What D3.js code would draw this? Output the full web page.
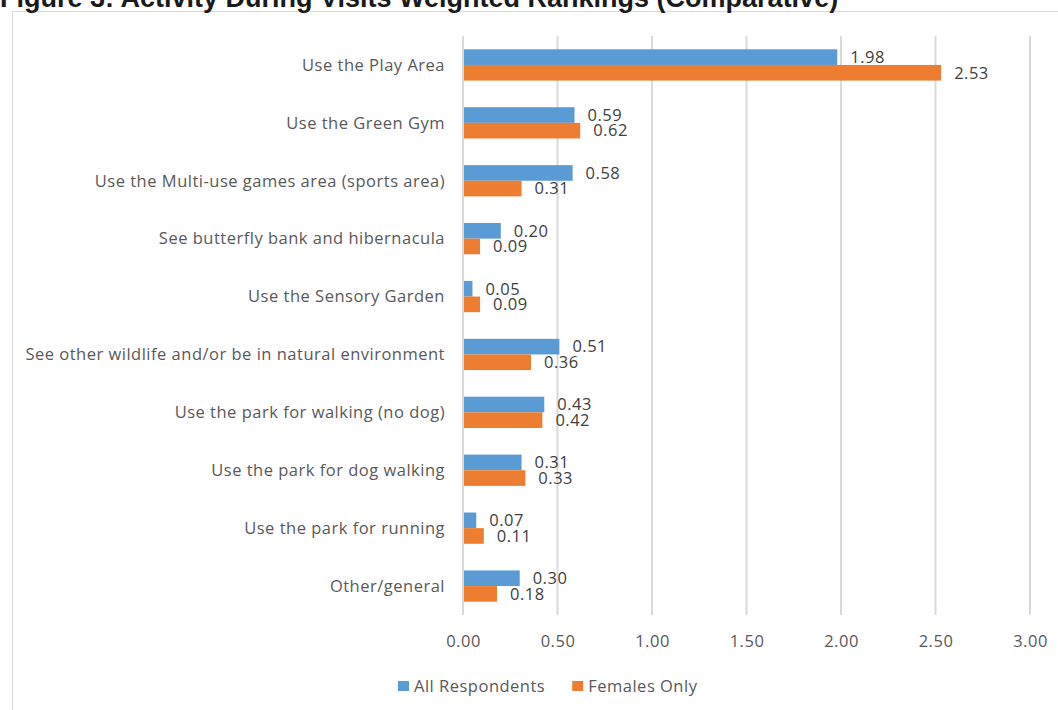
<!DOCTYPE html>
<html>
<head>
<meta charset="utf-8">
<script src="https://cdn.jsdelivr.net/npm/d3@7"></script>
<style>
  html, body { margin: 0; padding: 0; background: #fff; }
  svg { display: block; }
</style>
</head>
<body>
<svg id="chart" width="1058" height="710"></svg>
<script>
// Activities during visits, weighted rankings
const categories = [
  "Use the Play Area",
  "Use the Green Gym",
  "Use the Multi-use games area (sports area)",
  "See butterfly bank and hibernacula",
  "Use the Sensory Garden",
  "See other wildlife and/or be in natural environment",
  "Use the park for walking (no dog)",
  "Use the park for dog walking",
  "Use the park for running",
  "Other/general"
];
const allRespondents = [1.98, 0.59, 0.58, 0.20, 0.05, 0.51, 0.43, 0.31, 0.07, 0.30];
const femalesOnly    = [2.53, 0.62, 0.31, 0.09, 0.09, 0.36, 0.42, 0.33, 0.11, 0.18];
const seriesNames = ["All Respondents", "Females Only"];
const xTicks = [0, 0.5, 1, 1.5, 2, 2.5, 3];
const title = "Figure 3: Activity During Visits Weighted Rankings (Comparative)";

const colors = ["#5B9BD5", "#ED7D31"];
const textFont = "'Open Sans', sans-serif";
const spacing = 0.5;

const svg = d3.select("#chart");

// chart frame
svg.append("rect")
  .attr("x", 12.5).attr("y", 11.5)
  .attr("width", 1080).attr("height", 720)
  .attr("fill", "#fff").attr("stroke", "#d9d9d9").attr("stroke-width", 1);

// title, partly above the top edge
svg.append("text")
  .attr("x", 0).attr("y", 7)
  .attr("font-family", "'Liberation Sans', Arial, sans-serif")
  .attr("font-weight", "bold")
  .attr("font-size", 27)
  .attr("fill", "#1a1a1a")
  .text(title);

const plot = { left: 463, right: 1030, top: 36, bottom: 615 };

const x = d3.scaleLinear().domain([0, 3]).range([plot.left, plot.right]);
const y = d3.scaleBand().domain(categories).range([plot.top, plot.bottom]).paddingInner(0.46).paddingOuter(0.23);
const ySub = d3.scaleBand().domain([0, 1]).range([0, y.bandwidth()]);

// vertical gridlines
svg.append("g")
  .selectAll("line")
  .data(xTicks)
  .join("line")
  .attr("x1", d => x(d)).attr("x2", d => x(d))
  .attr("y1", plot.top).attr("y2", plot.bottom)
  .attr("stroke", "#d9d9d9").attr("stroke-width", 2);

// x axis labels
const xAxis = d3.axisBottom(x).tickValues(xTicks).tickFormat(d3.format(".2f")).tickSize(0).tickPadding(0);
const xg = svg.append("g").attr("transform", `translate(0,${plot.bottom + 26})`).call(xAxis);
xg.select(".domain").remove();
xg.selectAll("text")
  .attr("font-family", textFont).attr("font-size", 16.5)
  .attr("letter-spacing", spacing)
  .attr("fill", "#595959").attr("dy", "0.35em").attr("y", 0);

// category labels
const yAxis = d3.axisLeft(y).tickSize(0).tickPadding(0);
const yg = svg.append("g").attr("transform", `translate(${plot.left - 18},0)`).call(yAxis);
yg.select(".domain").remove();
yg.selectAll("text")
  .attr("font-family", textFont).attr("font-size", 16.5)
  .attr("letter-spacing", spacing)
  .attr("fill", "#595959").attr("dy", "0.35em");

// bars
const rows = categories.map((c, i) => ({ c, vals: [allRespondents[i], femalesOnly[i]] }));
const groups = svg.append("g").selectAll("g")
  .data(rows).join("g")
  .attr("transform", d => `translate(0,${y(d.c)})`);

groups.selectAll("rect")
  .data(d => d.vals.map((v, k) => ({ v, k })))
  .join("rect")
  .attr("x", x(0) + 1)
  .attr("y", d => ySub(d.k))
  .attr("width", d => x(d.v) - x(0) - 1)
  .attr("height", ySub.bandwidth())
  .attr("fill", d => colors[d.k]);

groups.selectAll("text")
  .data(d => d.vals.map((v, k) => ({ v, k })))
  .join("text")
  .attr("x", d => x(d.v) + 13)
  .attr("y", d => ySub(d.k) + ySub.bandwidth() / 2)
  .attr("dy", "0.35em")
  .attr("font-family", textFont).attr("font-size", 16.5)
  .attr("letter-spacing", spacing)
  .attr("fill", "#404040")
  .text(d => d3.format(".2f")(d.v));

// legend
const legend = svg.append("g").attr("transform", "translate(398,686)");
let lx = 0;
seriesNames.forEach((name, k) => {
  const item = legend.append("g").attr("transform", `translate(${lx},0)`);
  item.append("rect").attr("x", 0).attr("y", -5).attr("width", 11).attr("height", 10).attr("fill", colors[k]);
  const t = item.append("text").attr("x", 16).attr("dy", "0.35em")
    .attr("font-family", textFont).attr("font-size", 16.5)
    .attr("letter-spacing", spacing)
    .attr("fill", "#595959").text(name);
  lx += 16 + t.node().getComputedTextLength() + 27;
});
</script>
</body>
</html>
